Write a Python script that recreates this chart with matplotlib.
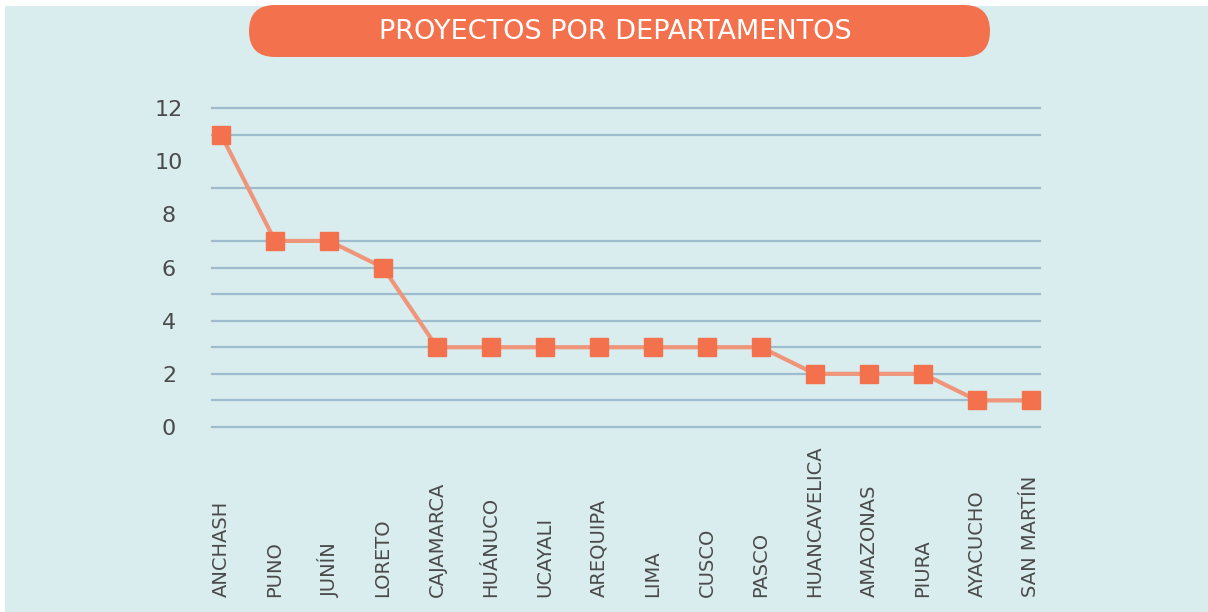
import matplotlib
matplotlib.use("Agg")
import matplotlib.pyplot as plt
from matplotlib.patches import FancyBboxPatch, Rectangle
from matplotlib.transforms import IdentityTransform, blended_transform_factory

departamentos = ["ANCHASH", "PUNO", "JUNÍN", "LORETO", "CAJAMARCA", "HUÁNUCO",
                 "UCAYALI", "AREQUIPA", "LIMA", "CUSCO", "PASCO", "HUANCAVELICA",
                 "AMAZONAS", "PIURA", "AYACUCHO", "SAN MARTÍN"]
proyectos = [11, 7, 7, 6, 3, 3, 3, 3, 3, 3, 3, 2, 2, 2, 1, 1]
y_ticks = [0, 2, 4, 6, 8, 10, 12]
grid_levels = [0, 1, 2, 3, 4, 5, 6, 7, 9, 11, 12]  # as drawn in the original
titulo = "PROYECTOS POR DEPARTAMENTOS"

bg = "#DAEDEE"
naranja = "#F3714D"
salmon = "#EF957A"
gris = "#4A4A4A"

plt.rcParams['font.family'] = ['DejaVu Sans']

fig = plt.figure(figsize=(12.08, 6.12), dpi=100)
fig.patch.set_facecolor("white")
fig.add_artist(Rectangle((5 / 1208, 0), 1, 1 - 6 / 612, transform=fig.transFigure,
                         facecolor=bg, edgecolor="none", zorder=-10))

ax = fig.add_axes([212 / 1208, 1 - 427 / 612, 828 / 1208, 319 / 612])
ax.set_facecolor("none")
for s in ax.spines.values():
    s.set_visible(False)

for g in grid_levels:
    ax.axhline(g, color="#9DBDCF", lw=1.6, zorder=1, clip_on=False)

x = list(range(len(departamentos)))
ax.plot(x, proyectos, color=salmon, lw=3, zorder=2, clip_on=False)
ax.plot(x, proyectos, ls="none", marker="s", ms=13.5, color=naranja,
        zorder=3, clip_on=False)

ax.set_xlim(-0.167, len(departamentos) - 1 + 0.167)
ax.set_ylim(0, 12)
ax.set_xticks([])
ax.set_yticks(y_ticks)
ax.set_yticklabels([str(v) for v in y_ticks], fontsize=16, color=gris, ha="center")
ax.tick_params(axis="y", length=0, pad=31)

trans = blended_transform_factory(ax.transData, fig.transFigure)
for xi, name in zip(x, departamentos):
    ax.text(xi, 1 - 597 / 612, name, rotation=90, ha="center", va="bottom",
            fontsize=14, color=gris, transform=trans)

# title pill
box = FancyBboxPatch((249, 612 - 57), 741, 52,
                     boxstyle="round,pad=0,rounding_size=26",
                     transform=IdentityTransform(), facecolor=naranja,
                     edgecolor="none")
fig.add_artist(box)
fig.text(615 / 1208, 1 - 32 / 612, titulo, ha="center", va="center",
         fontsize=19.5, color="white")

fig.savefig("out.png", dpi=100, facecolor=fig.get_facecolor())
